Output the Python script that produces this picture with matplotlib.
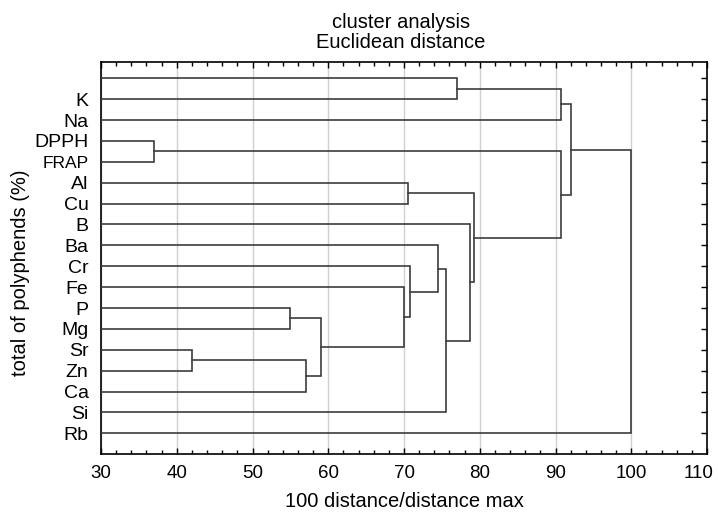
import matplotlib.pyplot as plt
import matplotlib.transforms as mtransforms
from matplotlib.ticker import MultipleLocator

plt.rcParams["font.family"] = ["Liberation Sans", "DejaVu Sans"]

# leaves from top to bottom (the first one has no label in the original)
leaf_labels = ['', 'K', 'Na', 'DPPH', 'FRAP', 'Al', 'Cu', 'B', 'Ba', 'Cr',
               'Fe', 'P', 'Mg', 'Sr', 'Zn', 'Ca', 'Si', 'Rb']

# merges: (left, right, linkage distance); ids < 18 are leaves, 18+ are clusters
merges = [
    (3, 4, 37.0),      # 18 DPPH-FRAP
    (13, 14, 42.0),    # 19 Sr-Zn
    (11, 12, 55.0),    # 20 P-Mg
    (19, 15, 57.0),    # 21 + Ca
    (20, 21, 59.0),    # 22
    (10, 22, 70.0),    # 23 + Fe
    (5, 6, 70.5),      # 24 Al-Cu
    (9, 23, 70.75),    # 25 + Cr
    (8, 25, 74.5),     # 26 + Ba
    (26, 16, 75.6),    # 27 + Si
    (7, 27, 78.7),     # 28 + B
    (24, 28, 79.3),    # 29
    (0, 1, 77.0),      # 30 top-K
    (30, 2, 90.7),     # 31 + Na
    (18, 29, 90.7),    # 32
    (31, 32, 92.0),    # 33
    (33, 17, 100.0),   # 34 + Rb
]
x_ticks = [30, 40, 50, 60, 70, 80, 90, 100, 110]

n = len(leaf_labels)
ypos = {i: float(i) for i in range(n)}
height = {i: 0.0 for i in range(n)}

fig = plt.figure(figsize=(7.18, 5.15), dpi=100)
ax = fig.add_axes([0.1407, 0.1184, 0.8440, 0.7612])

line_color = '#3c3c3c'
for k, (a, b, h) in enumerate(merges):
    cid = n + k
    ya, yb = ypos[a], ypos[b]
    ax.plot([height[a], h, h, height[b]], [ya, ya, yb, yb],
            color=line_color, lw=1.2, solid_joinstyle='miter', zorder=3)
    ypos[cid] = (ya + yb) / 2
    height[cid] = h

ax.set_xlim(30, 110)
ax.set_ylim(n - 1 + 0.99, -0.78)
ax.set_xticks(x_ticks)
ax.set_xticklabels([str(t) for t in x_ticks])
ax.xaxis.set_minor_locator(MultipleLocator(2))
ax.grid(axis='x', which='major', color='#d0d0d0', lw=1.0, zorder=0)

ax.set_yticks(range(n))
ax.set_yticklabels(leaf_labels, fontsize=14)
offset = mtransforms.ScaledTranslation(0, -6 / 100, fig.dpi_scale_trans)
for lab in ax.get_yticklabels():
    lab.set_transform(lab.get_transform() + offset)
    if lab.get_text() == 'FRAP':
        lab.set_fontsize(12.5)

ax.tick_params(axis='x', which='both', direction='in', top=True, labelsize=13.5,
               pad=8, width=1)
ax.tick_params(axis='x', which='major', length=4)
ax.tick_params(axis='x', which='minor', length=3)
ax.tick_params(axis='y', direction='in', left=False, right=True, length=4,
               width=1, pad=9)
# the last label is pushed left so it stays inside the figure
for lab in ax.get_xticklabels():
    if lab.get_text() == '110':
        lab.set_horizontalalignment('right')
        lab.set_transform(lab.get_transform() +
                          mtransforms.ScaledTranslation(6 / 100, 0, fig.dpi_scale_trans))

for s in ax.spines.values():
    s.set_linewidth(1.2)
    s.set_color('black')

ax.set_xlabel("100 distance/distance max", fontsize=14.5, labelpad=7)
ax.set_ylabel("total of polyphends (%)", fontsize=14.5)
ax.yaxis.set_label_coords(-0.118, 0.462)
fig.text(0.5585, 0.9456, "cluster analysis", ha='center', va='baseline', fontsize=14.5)
fig.text(0.5585, 0.9068, "Euclidean distance", ha='center', va='baseline', fontsize=14.5)

fig.savefig('out.png', dpi=100)
